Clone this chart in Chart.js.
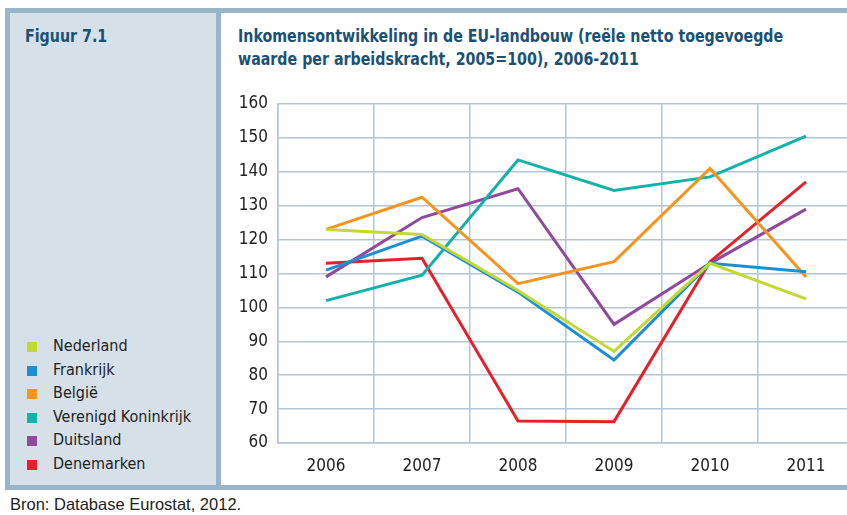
<!DOCTYPE html>
<html>
<head>
<meta charset="utf-8">
<script src="https://cdn.jsdelivr.net/npm/chart.js@4"></script>
<style>
  html, body { margin: 0; padding: 0; width: 847px; height: 515px; overflow: hidden; background: #fff; }
  #frame { position: absolute; left: 0; top: 0; width: 847px; height: 515px; }
  .band { position: absolute; background: #98b5ca; }
  #panel { position: absolute; left: 10px; top: 13px; width: 206px; height: 472px; background: #d5e0e9; }
  #plotbg { position: absolute; left: 221px; top: 13px; width: 626px; height: 472px; background: #fff; }
  .head { position: absolute; font-family: 'DejaVu Sans Condensed', sans-serif; font-weight: bold; font-size: 17px; color: #1b5174; line-height: 23px; white-space: nowrap; transform-origin: 0 0; transform: scaleX(0.93); }
  #legend { position: absolute; left: 27px; top: 334px; font-family: 'DejaVu Sans Condensed', sans-serif; font-size: 16px; color: #222; }
  #legend div { height: 23.5px; line-height: 23.5px; white-space: nowrap; }
  #legend span { display: inline-block; width: 10px; height: 10px; margin-right: 16px; vertical-align: -1px; }
  #source { position: absolute; left: 10px; top: 495px; font-family: 'Liberation Sans', Arial, sans-serif; font-size: 16.5px; color: #222; }
  #wrap { position: absolute; left: 221px; top: 80px; width: 640px; height: 400px; }
</style>
</head>
<body>
<div id="frame">
  <div class="band" style="left:5px; top:8px; width:842px; height:5px;"></div>
  <div class="band" style="left:5px; top:8px; width:5px; height:482px;"></div>
  <div class="band" style="left:216px; top:8px; width:5px; height:482px;"></div>
  <div class="band" style="left:5px; top:485px; width:842px; height:5px;"></div>
  <div id="panel"></div>
  <div id="plotbg"></div>
  <div class="head" style="left:25px; top:25px;">Figuur 7.1</div>
  <div class="head" style="left:238px; top:25px;">Inkomensontwikkeling in de EU-landbouw (reële netto toegevoegde<br>waarde per arbeidskracht, 2005=100), 2006-2011</div>
  <div id="legend"></div>
  <div id="source">Bron: Database Eurostat, 2012.</div>
  <div id="wrap"><canvas id="c"></canvas></div>
</div>
<script>
const years = ['2006', '2007', '2008', '2009', '2010', '2011'];
const countries = ['Nederland', 'Frankrijk', 'België', 'Verenigd Koninkrijk', 'Duitsland', 'Denemarken'];
const colors = ['#c3d832', '#1b8fd5', '#f7941e', '#14b1a8', '#8f4a9c', '#e3212a'];

const nederland  = [123, 121.5, 105, 87, 113, 102.5];
const frankrijk  = [111, 121, 104.5, 84.5, 113, 110.5];
const belgie     = [123, 132.5, 107, 113.5, 141, 109];
const vk         = [102, 109.5, 143.5, 134.5, 138.5, 150.5];
const duitsland  = [109, 126.5, 135, 95, 113, 129];
const denemarken = [113, 114.5, 66.5, 66.3, 113.5, 137];
const series = [nederland, frankrijk, belgie, vk, duitsland, denemarken];

// legend in left panel
const leg = document.getElementById('legend');
countries.forEach(function(name, i) {
  const row = document.createElement('div');
  row.innerHTML = '<span style="background:' + colors[i] + '"></span>' + name;
  leg.appendChild(row);
});

const tickFont = { family: "'DejaVu Sans Condensed', sans-serif", size: 17 };

new Chart(document.getElementById('c'), {
  type: 'line',
  data: {
    labels: years,
    datasets: countries.map(function(name, i) {
      return {
        label: name,
        data: series[i],
        borderColor: colors[i],
        backgroundColor: colors[i],
        borderWidth: 3,
        pointRadius: 0,
        tension: 0
      };
    })
  },
  options: {
    responsive: true,
    maintainAspectRatio: false,
    animation: false,
    layout: { padding: { top: 24, right: 7, left: 0, bottom: 0 } },
    plugins: { legend: { display: false }, tooltip: { enabled: false } },
    scales: {
      x: {
        offset: true,
        grid: { color: '#b3c6d6', lineWidth: 1.5, offset: true, drawTicks: false },
        border: { color: '#b3c6d6', width: 1.5 },
        ticks: { color: '#222', font: tickFont, padding: 13, maxRotation: 0 },
        afterFit: function(s) { s.height = 37; }
      },
      y: {
        min: 60, max: 160,
        grid: { color: '#b3c6d6', lineWidth: 1.5, drawTicks: false },
        border: { color: '#b3c6d6', width: 1.5 },
        ticks: { stepSize: 10, color: '#222', font: tickFont, padding: 10 },
        afterFit: function(s) { s.width = 57; }
      }
    }
  }
});
</script>
</body>
</html>
